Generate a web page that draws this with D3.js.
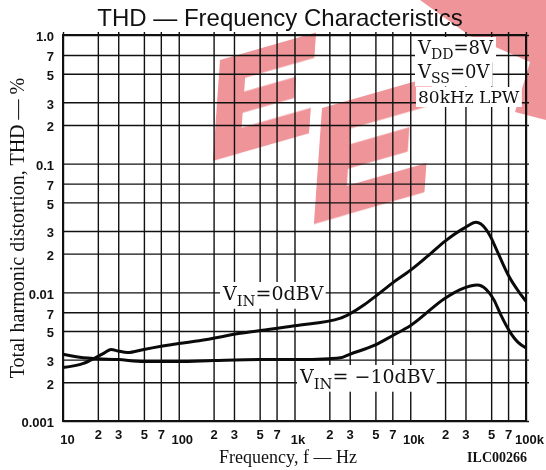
<!DOCTYPE html>
<html><head><meta charset="utf-8">
<script src="https://cdn.jsdelivr.net/npm/d3@7"></script>
<style>body{margin:0;background:#fff}</style>
</head><body>
<svg id="c" width="546" height="470"></svg>
<script>
// ---------- data ----------
const freqTicks = [10,20,30,50,70,100,200,300,500,700,1000,2000,3000,5000,7000,10000,20000,30000,50000,70000,100000];
const freqTickLabels = ["10","2","3","5","7","100","2","3","5","7","1k","2","3","5","7","10k","2","3","5","7","100k"];
const thdTicks = [0.001,0.002,0.003,0.005,0.007,0.01,0.02,0.03,0.05,0.07,0.1,0.2,0.3,0.5,0.7,1];
const thdTickLabels = ["0.001","2","3","5","7","0.01","2","3","5","7","0.1","2","3","5","7","1.0"];

// VIN = 0 dBV
const freq0dB = [10,15,19,23,26,30,36,50,100,150,340,1000,2500,3000,4000,5000,7000,10000,15000,20000,30000,37000,45000,50000,55000,70000,100000];
const thd0dB  = [0.0026,0.0028,0.0031,0.0034,0.0036,0.0035,0.0034,0.0036,0.0040,0.0042,0.0048,0.0055,0.0063,0.0068,0.0080,0.0093,0.0118,0.0148,0.020,0.025,0.032,0.035,0.031,0.0265,0.022,0.0137,0.0085];
// VIN = -10 dBV
const freq10dB = [10,15,20,30,50,100,200,500,1000,2000,2500,3000,5000,7000,10000,20000,27000,33000,38000,45000,53000,60000,74000,85000,100000];
const thd10dB  = [0.0033,0.0031,0.00305,0.0030,0.0029,0.0029,0.00295,0.0030,0.0030,0.00305,0.0031,0.0033,0.0039,0.0046,0.0055,0.0090,0.0105,0.0112,0.0114,0.0106,0.0087,0.0068,0.0048,0.0041,0.0037];

// ---------- layout ----------
const L = 63, R = 526, T = 35, B = 421;
const svg = d3.select("#c");

const x = d3.scaleLog().domain([10, 100000]).range([L, R]);
const y = d3.scaleLog().domain([0.001, 1]).range([B, T]);

// watermark (background decoration)
const wm = svg.append("g").attr("fill", "#e9666c").attr("opacity", 0.7);
function eShape(cx, cy, s, rot) {
  const g = wm.append("g").attr("transform", `translate(${cx},${cy}) rotate(${rot}) skewX(-20)`);
  g.append("rect").attr("x", 0).attr("y", 0).attr("width", 28*s).attr("height", 95*s);
  g.append("rect").attr("x", 0).attr("y", 0).attr("width", 100*s).attr("height", 24*s);
  g.append("rect").attr("x", 0).attr("y", 37*s).attr("width", 82*s).attr("height", 20*s);
  g.append("rect").attr("x", 0).attr("y", 71*s).attr("width", 100*s).attr("height", 24*s);
}
eShape(220, 60, 1.0, -16);
eShape(322, 108, 1.15, -16);
wm.append("path").attr("d", "M420,0 L546,0 L546,120 L515,112 L530,62 L470,36 Z");

// grid
svg.append("g").attr("transform", `translate(0,${B})`)
  .call(d3.axisBottom(x).tickValues(freqTicks).tickFormat("").tickSize(-(B - T + 3)).tickSizeOuter(0))
  .call(g => g.select(".domain").remove())
  .call(g => g.selectAll("line").attr("stroke", "#111").attr("stroke-width", 1.4));
svg.append("g").attr("transform", `translate(${L},0)`)
  .call(d3.axisLeft(y).tickValues(thdTicks).tickFormat("").tickSize(-(R - L + 3)).tickSizeOuter(0))
  .call(g => g.select(".domain").remove())
  .call(g => g.selectAll("line").attr("stroke", "#111").attr("stroke-width", 1.4));

// frame
svg.append("rect").attr("x", L).attr("y", T).attr("width", R - L).attr("height", B - T)
  .attr("fill", "none").attr("stroke", "#111").attr("stroke-width", 2);

// tick labels
const majors = new Set([10, 100, 1000, 10000, 100000]);
svg.append("g").attr("transform", `translate(0,${B})`)
  .call(d3.axisBottom(x).tickValues(freqTicks).tickFormat((d, i) => freqTickLabels[i]).tickSize(0).tickPadding(9))
  .call(g => g.select(".domain").remove())
  .call(g => g.selectAll("text")
    .attr("font-family", "Liberation Sans, Arial, sans-serif").attr("font-weight", "bold").attr("font-size", 13).attr("fill", "#111")
    .attr("dx", d => d === 10 ? 4 : (majors.has(d) ? 3 : 0))
    .attr("dy", d => majors.has(d) ? "1.1em" : "0.71em"));
svg.append("g").attr("transform", `translate(${L},0)`)
  .call(d3.axisLeft(y).tickValues(thdTicks).tickFormat((d, i) => thdTickLabels[i]).tickSize(0).tickPadding(9))
  .call(g => g.select(".domain").remove())
  .call(g => g.selectAll("text")
    .attr("font-family", "Liberation Sans, Arial, sans-serif").attr("font-weight", "bold").attr("font-size", 13).attr("fill", "#111")
    .attr("dy", "0.45em"));

// curves
const line = d3.line().x(d => x(d[0])).y(d => y(d[1])).curve(d3.curveMonotoneX);
const c0 = d3.zip(freq0dB, thd0dB), c10 = d3.zip(freq10dB, thd10dB);
[c0, c10].forEach(c => svg.append("path").datum(c).attr("d", line)
  .attr("fill", "none").attr("stroke", "#0a0a0a").attr("stroke-width", 3).attr("stroke-linejoin", "round"));

// labels with white background
function label(px, py, parts, size) {
  const g = svg.append("g");
  const t = g.append("text").attr("x", px).attr("y", py)
    .attr("font-family", "DejaVu Serif, serif").attr("font-size", size).attr("fill", "#111");
  parts.forEach(p => {
    const ts = t.append("tspan").text(p[0]);
    if (p[1] === "sub") ts.attr("font-size", size * 0.78).attr("dy", size * 0.3);
    if (p[1] === "up") ts.attr("dy", -size * 0.3);
  });
  const bb = t.node().getBBox();
  g.insert("rect", "text").attr("x", bb.x - 2).attr("y", bb.y).attr("width", bb.width + 4).attr("height", bb.height).attr("fill", "#fff");
}
label(418, 54, [["V"], ["DD", "sub"], ["=8V", "up"]], 18);
label(418, 78, [["V"], ["SS", "sub"], ["=0V", "up"]], 18);
label(418, 103, [["80kHz LPW"]], 17);
label(223, 300, [["V"], ["IN", "sub"], ["=0dBV", "up"]], 19);
label(300, 383, [["V"], ["IN", "sub"], ["= \u221210dBV", "up"]], 19);

// titles
svg.append("text").attr("x", 280).attr("y", 26).attr("text-anchor", "middle")
  .attr("font-family", "Liberation Sans, Arial, sans-serif").attr("font-size", 24).attr("fill", "#111")
  .text("THD \u2014 Frequency Characteristics");
svg.append("text").attr("x", 288).attr("y", 463).attr("text-anchor", "middle")
  .attr("font-family", "Liberation Serif, Times New Roman, serif").attr("font-size", 18).attr("fill", "#111")
  .text("Frequency, f \u2014 Hz");
svg.append("text").attr("transform", "translate(24,228) rotate(-90)").attr("text-anchor", "middle")
  .attr("font-family", "Liberation Serif, Times New Roman, serif").attr("font-size", 20).attr("fill", "#111")
  .text("Total harmonic distortion, THD \u2014 %");
svg.append("text").attr("x", 527).attr("y", 462).attr("text-anchor", "end")
  .attr("font-family", "Liberation Serif, Times New Roman, serif").attr("font-weight", "bold").attr("font-size", 14).attr("fill", "#111")
  .text("ILC00266");
</script>
</body></html>
